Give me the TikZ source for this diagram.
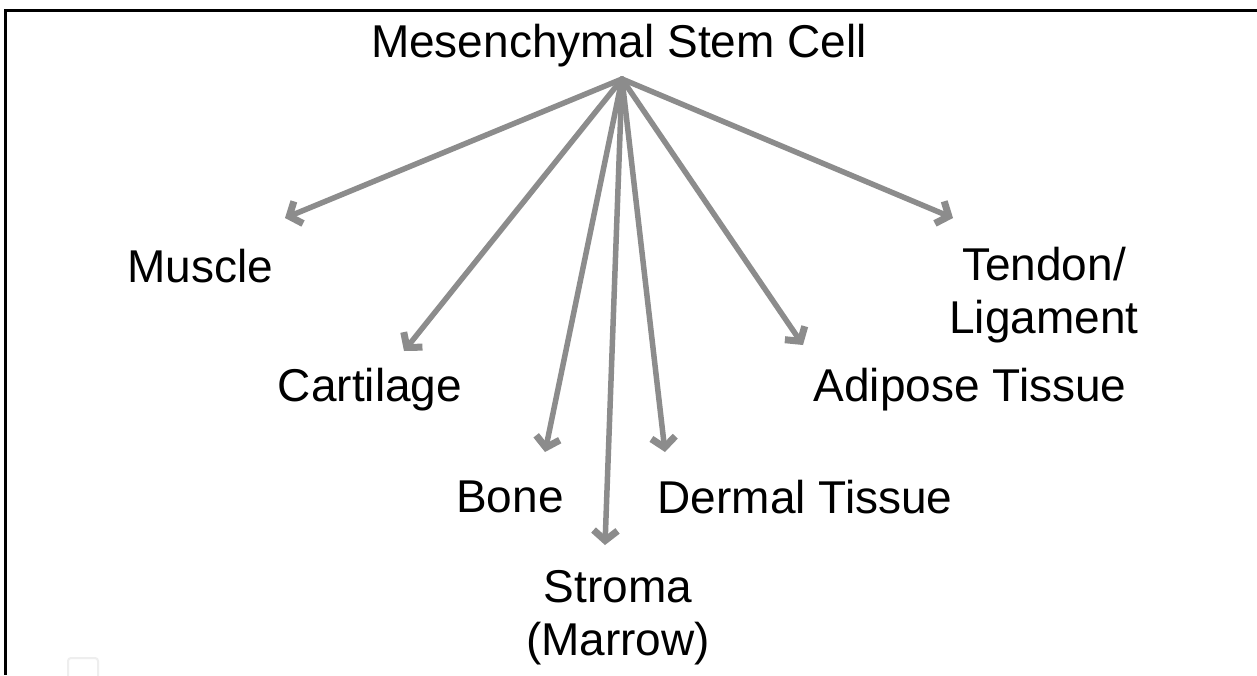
\documentclass[tikz,border=0pt]{standalone}
\usepackage{fontspec}
\setmainfont{Liberation Sans}
\usetikzlibrary{arrows.meta}
\definecolor{arrowgray}{HTML}{8C8C8C}
\definecolor{faintgray}{HTML}{EEEEEE}
\begin{document}
\begin{tikzpicture}[x=1pt,y=-1pt,
  lbl/.style={inner sep=0pt, font=\fontsize{46}{53}\selectfont, align=center, anchor=center},
  conn/.style={draw=arrowgray, line width=5.5pt, line cap=round,
    -{Straight Barb[length=10pt, width=24pt, line width=7pt]}}]
\useasboundingbox (0,0) rectangle (1257,675);
\fill[white] (0,0) rectangle (1257,675);
% frame
\draw[line width=3pt] (1257,10) -- (5,10) -- (5,675);
\draw[faintgray, line width=2pt, rounded corners=3pt] (68,676) -- (68,658) -- (98,658) -- (98,676);
% labels
\node[lbl] (msc) at (619,46) {Mesenchymal Stem Cell};
\node[lbl] (muscle) at (200,266) {Muscle};
\node[lbl] (cart) at (370,390) {Cartilage};
\node[lbl] (bone) at (510,497) {Bone};
\node[lbl] (stroma) at (618,618) {Stroma\\(Marrow)};
\node[lbl] (dermal) at (805,497) {Dermal Tissue};
\node[lbl] (adipose) at (970,390) {Adipose Tissue};
\node[lbl] (tendon) at (1044,295) {Tendon/\\Ligament};
% hub and tips
\coordinate (hub) at (622,79);
\coordinate (tMuscle) at (285,218);
\coordinate (tCart) at (404,351);
\coordinate (tBone) at (545,452);
\coordinate (tStroma) at (605,545);
\coordinate (tDermal) at (665,452);
\coordinate (tAdipose) at (803,345);
\coordinate (tTendon) at (953,218);
\foreach \t in {tMuscle,tCart,tBone,tStroma,tDermal,tAdipose,tTendon}
  \draw[conn] (hub) -- (\t);
\end{tikzpicture}
\end{document}
